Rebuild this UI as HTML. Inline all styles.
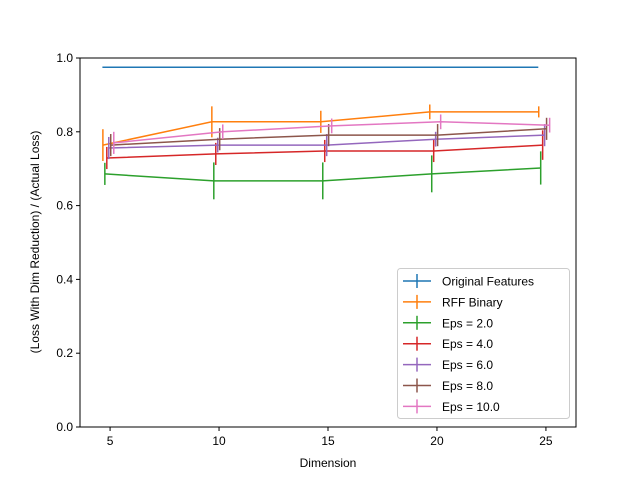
<!DOCTYPE html>
<html><head><meta charset="utf-8"><style>
body{margin:0;background:#fff}
svg text{font-family:"Liberation Sans","DejaVu Sans",sans-serif;font-size:12px;fill:#000}
</style></head><body>
<svg id="chart" width="640" height="480" viewBox="0 0 640 480" xmlns="http://www.w3.org/2000/svg">
<rect x="0" y="0" width="640" height="480" fill="#fff"/>
<g id="marks"></g>
<rect x="80" y="58" width="496" height="369" fill="none" stroke="#000" stroke-width="1"/>
<g id="axes"></g>
<text x="328" y="467" text-anchor="middle">Dimension</text>
<text transform="translate(39,242) rotate(-90)" text-anchor="middle">(Loss With Dim Reduction) / (Actual Loss)</text>
<g id="legend"></g>
</svg>
<script>
const dims = [5, 10, 15, 20, 25];
const seriesNames = ["Original Features","RFF Binary","Eps = 2.0","Eps = 4.0","Eps = 6.0","Eps = 8.0","Eps = 10.0"];
const seriesColors = ["#1f77b4","#ff7f0e","#2ca02c","#d62728","#9467bd","#8c564b","#e377c2"];
const seriesOffsets = [-0.35,-0.33,-0.24,-0.15,-0.06,0.03,0.17];
const originalVals = [0.975,0.975,0.975,0.975,0.975];
const originalErr = [0,0,0,0,0];
const rffVals = [0.764,0.827,0.827,0.854,0.854];
const rffErr = [0.043,0.042,0.03,0.02,0.015];
const eps2Vals = [0.686,0.667,0.667,0.686,0.702];
const eps2Err = [0.03,0.05,0.05,0.05,0.045];
const eps4Vals = [0.729,0.74,0.748,0.748,0.764];
const eps4Err = [0.03,0.03,0.03,0.03,0.04];
const eps6Vals = [0.756,0.764,0.764,0.78,0.791];
const eps6Err = [0.03,0.02,0.03,0.02,0.03];
const eps8Vals = [0.764,0.78,0.791,0.791,0.808];
const eps8Err = [0.03,0.03,0.03,0.03,0.03];
const eps10Vals = [0.77,0.8,0.816,0.827,0.818];
const eps10Err = [0.03,0.02,0.02,0.02,0.02];
const xTicks = [5,10,15,20,25];
const yTicks = [0,0.2,0.4,0.6,0.8,1.0];
const yTickLabels = ["0.0","0.2","0.4","0.6","0.8","1.0"];

const allVals=[originalVals,rffVals,eps2Vals,eps4Vals,eps6Vals,eps8Vals,eps10Vals];
const allErr=[originalErr,rffErr,eps2Err,eps4Err,eps6Err,eps8Err,eps10Err];
const X0=80,X1=576,Y0=427,Y1=58;
const xMin=3.62,xMax=26.38,yMin=0,yMax=1;
function sx(v){return X0+(v-xMin)/(xMax-xMin)*(X1-X0);}
function sy(v){return Y0-(v-yMin)/(yMax-yMin)*(Y0-Y1);}
const NS="http://www.w3.org/2000/svg";
function mk(tag,attrs,parent){const e=document.createElementNS(NS,tag);for(const k in attrs)e.setAttribute(k,attrs[k]);parent.appendChild(e);return e;}
const marks=document.getElementById('marks');
allVals.forEach((vals,si)=>{
  const g=mk('g',{},marks);
  
  
  const pts=vals.map((v,i)=>sx(dims[i]+seriesOffsets[si]).toFixed(1)+','+sy(v).toFixed(1)).join(' ');
  const pl=mk('polyline',{points:pts,fill:'none',stroke:seriesColors[si],'stroke-width':1.5},g);
  
  
  vals.forEach((v,i)=>{
    const x=sx(dims[i]+seriesOffsets[si]);
    const ln=mk('line',{x1:x,x2:x,y1:sy(v+allErr[si][i]),y2:sy(v-allErr[si][i]),stroke:seriesColors[si],'stroke-width':1.5},g);
    
    
  });
});
const axes=document.getElementById('axes');
xTicks.forEach(t=>{
  const x=sx(t);
  mk('line',{x1:x,x2:x,y1:Y0,y2:Y0+4,stroke:'#000'},axes);
  const tx=mk('text',{x:x,y:Y0+18,'text-anchor':'middle'},axes);
  tx.textContent=t;
  
  
});
yTicks.forEach((t,i)=>{
  const y=sy(t);
  mk('line',{x1:X0-4,x2:X0,y1:y,y2:y,stroke:'#000'},axes);
  const tx=mk('text',{x:X0-7,y:y+4,'text-anchor':'end'},axes);
  tx.textContent=yTickLabels[i];
  
  
});
const lg=document.getElementById('legend');
mk('rect',{x:397.5,y:268.5,width:172,height:150,rx:3,fill:'#fff','fill-opacity':0.8,stroke:'#ccc'},lg);
seriesNames.forEach((n,i)=>{
  const y=281+i*20.9;
  const e=mk('g',{},lg);
  
  
  mk('line',{x1:403,x2:431,y1:y,y2:y,stroke:seriesColors[i],'stroke-width':1.5},e);
  mk('line',{x1:417,x2:417,y1:y-7,y2:y+7,stroke:seriesColors[i],'stroke-width':1.5},e);
  const t=mk('text',{x:442,y:y+4.5},e);
  t.textContent=n;
});
</script>
</body></html>
